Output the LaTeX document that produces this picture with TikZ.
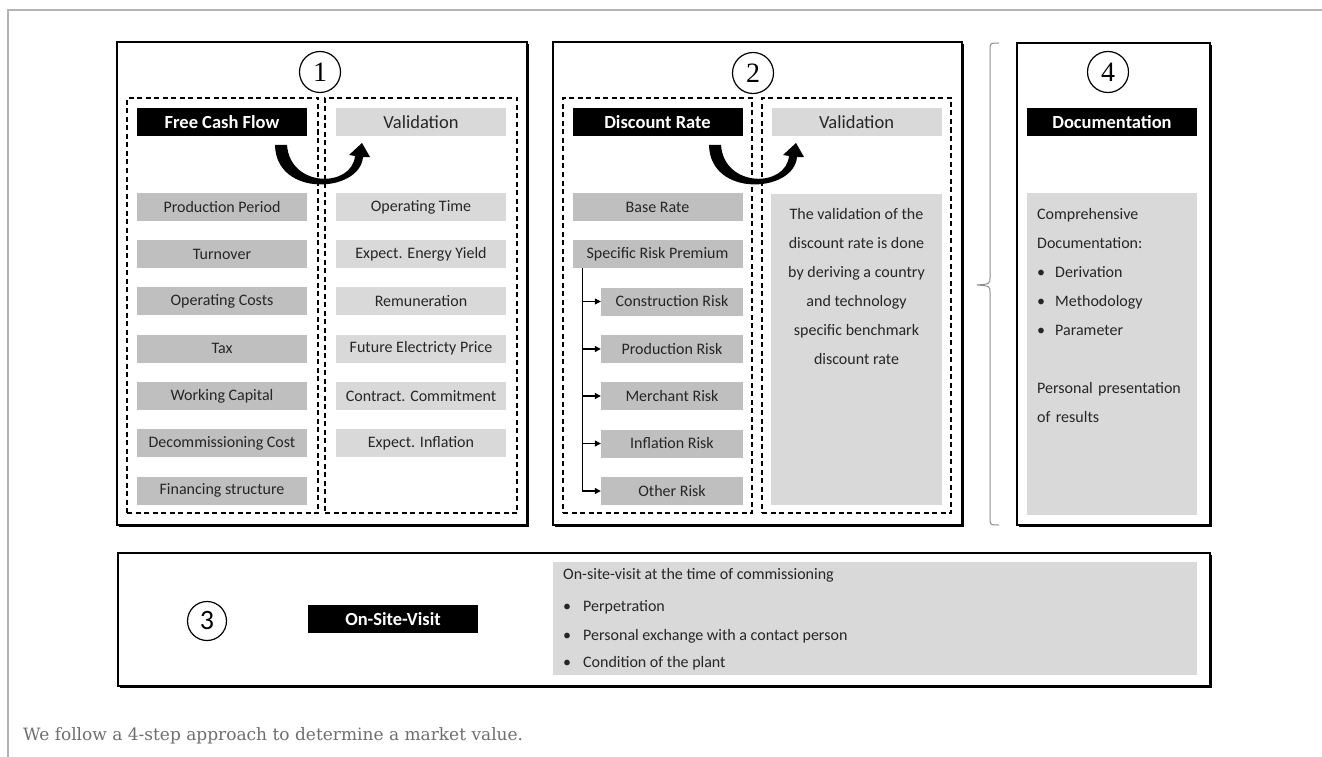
\documentclass[tikz,border=0pt]{standalone}
\usepackage{fontspec}
\setmainfont{Carlito}
\newfontfamily\digitfont{Liberation Serif}
\newfontfamily\capfont{DejaVu Serif}
\usetikzlibrary{arrows.meta,shadows,calc}
\definecolor{dk}{HTML}{BFBFBF}
\definecolor{lt}{HTML}{D9D9D9}
\definecolor{txt}{HTML}{262626}
\definecolor{framec}{HTML}{B4B4B4}
\definecolor{capc}{HTML}{6E6E6E}
\definecolor{bracec}{HTML}{8C8C8C}
\newcommand\docbul{\makebox[18pt][l]{•}}
\begin{document}
\begin{tikzpicture}[x=1pt,y=-1pt,
  panel/.style={draw=black, line width=1.4pt, fill=white, inner sep=0pt,
    drop shadow={shadow xshift=2pt, shadow yshift=-2pt, fill=black, opacity=1}},
  dashbox/.style={draw=black, line width=1.3pt, dash pattern=on 5pt off 3.5pt, inner sep=0pt},
  hdr/.style={fill=black, text=white, font=\bfseries\fontsize{18.5}{22}\selectfont,
    minimum width=170pt, minimum height=28pt, inner sep=0pt},
  vhdr/.style={fill=lt, text=txt, font=\fontsize{18.5}{22}\selectfont,
    minimum width=170pt, minimum height=28pt, inner sep=0pt},
  itemd/.style={fill=dk, text=txt, font=\fontsize{16}{19}\selectfont,
    minimum width=170pt, minimum height=28pt, inner sep=0pt},
  iteml/.style={itemd, fill=lt},
  risk/.style={itemd, minimum width=142pt},
  num/.style={circle, draw=black, line width=1.2pt, minimum size=41pt, inner sep=0pt,
    font=\digitfont\fontsize{28}{28}\selectfont},
  branch/.style={draw=black, line width=1.1pt, -{Triangle[length=6pt,width=6pt]}},
  bodytext/.style={text=txt, font=\fontsize{16}{29}\selectfont, inner sep=0pt},
  bendarrow/.pic={
    \fill[black] (275,145) .. controls (276,198) and (360,193) .. (363,157)
      -- (370,157) -- (362,143) -- (349,155) -- (355,156)
      .. controls (352,188) and (290,188) .. (287,145) -- cycle;
  },
]
\useasboundingbox (0,0) rectangle (1322,757);
% outer frame
\draw[framec, line width=1.5pt] (8,757) -- (8,10) -- (1322,10);

% panels
\node[panel, minimum width=410pt, minimum height=483pt] (p1) at (322,283.5) {};
\node[panel, minimum width=409pt, minimum height=483pt] (p2) at (757.5,283.5) {};
\node[panel, minimum width=193pt, minimum height=482pt] (p4) at (1113.5,284) {};
\node[panel, minimum width=1092pt, minimum height=133pt] (p3) at (664,619.5) {};

% dashed boxes
\node[dashbox, minimum width=191pt, minimum height=415pt] (d1l) at (222.5,305.5) {};
\node[dashbox, minimum width=192pt, minimum height=415pt] (d1r) at (421,305.5) {};
\node[dashbox, minimum width=189pt, minimum height=415pt] (d2l) at (657.5,305.5) {};
\node[dashbox, minimum width=189pt, minimum height=415pt] (d2r) at (856.5,305.5) {};

% circled numbers
\node[num] (n1) at (320,72) {1};
\node[num] (n2) at (753,73) {2};
\node[num] (n4) at (1108,72) {4};
\node[num, minimum size=39pt, font=\fontsize{28}{28}\selectfont] (n3) at (207,621) {3};

% panel 1
\node[hdr] (fcf) at (222,122) {Free Cash Flow};
\node[vhdr] (val1) at (421,122) {Validation};
\node[itemd] (pp) at (222,207) {Production Period};
\node[itemd] (to) at (222,254) {Turnover};
\node[itemd] (oc) at (222,301) {Operating Costs};
\node[itemd] (tx) at (222,348.5) {Tax};
\node[itemd] (wc) at (222,396) {Working Capital};
\node[itemd] (dc) at (222,443) {Decommissioning Cost};
\node[itemd] (fs) at (222,490.5) {Financing structure};
\node[iteml] (ot) at (421,207) {Operating Time};
\node[iteml] (ey) at (421,254) {Expect. Energy Yield};
\node[iteml] (rm) at (421,301) {Remuneration};
\node[iteml] (ep) at (421,348.5) {Future Electricty Price};
\node[iteml] (cc) at (421,396) {Contract. Commitment};
\node[iteml] (ei) at (421,443) {Expect. Inflation};
\pic at (0,0) {bendarrow};

% panel 2
\node[hdr] (dr) at (657.5,122) {Discount Rate};
\node[vhdr] (val2) at (856.5,122) {Validation};
\node[itemd] (br) at (657.5,207) {Base Rate};
\node[itemd] (srp) at (657.5,254) {Specific Risk Premium};
\node[risk] (cr) at (672,301.5) {Construction Risk};
\node[risk] (pr) at (672,349) {Production Risk};
\node[risk] (mr) at (672,396) {Merchant Risk};
\node[risk] (ir) at (672,443.5) {Inflation Risk};
\node[risk] (or) at (672,491) {Other Risk};
\coordinate (trunk) at ($(srp.south west)+(10,0)$);
\foreach \n in {cr,pr,mr,ir,or} \draw[branch] (trunk) |- (\n.west);
\node[fill=lt, minimum width=171pt, minimum height=311pt, inner sep=0pt] (vbox) at (856.5,349.5) {};
\node[bodytext, align=center, anchor=north] (vtxt) at (856.5,208)
  {The validation of the\\discount rate is done\\by deriving a country\\and technology\\specific benchmark\\discount rate};
\pic at (434,0) {bendarrow};

% brace
\draw[bracec, line width=1pt] (999,43) .. controls (990,43) .. (990,50) -- (990,277)
  .. controls (990,284) .. (977,285) .. controls (990,286) .. (990,293) -- (990,518)
  .. controls (990,525) .. (999,525);

% panel 4
\node[hdr] (doc) at (1112,122.5) {Documentation};
\node[fill=lt, minimum width=170pt, minimum height=322pt, inner sep=0pt] (dbox) at (1112,354) {};
\node[bodytext, align=left, anchor=north west, text width=155pt] (dtxt) at (1037,208)
  {Comprehensive\\Documentation:\\\docbul Derivation\\\docbul Methodology\\\docbul Parameter\\[29pt]Personal presentation\\of results};

% panel 3
\node[hdr] (osv) at (393,619) {On-Site-Visit};
\node[fill=lt, minimum width=644pt, minimum height=113pt, inner sep=0pt] (obox) at (875,618.5) {};
\node[bodytext, anchor=west] (o1) at (563,575) {On-site-visit at the time of commissioning};
\node[bodytext, anchor=west] (o2) at (563,607) {\makebox[20pt][l]{•}Perpetration};
\node[bodytext, anchor=west] (o3) at (563,636) {\makebox[20pt][l]{•}Personal exchange with a contact person};
\node[bodytext, anchor=west] (o4) at (563,663) {\makebox[20pt][l]{•}Condition of the plant};

% caption
\node[anchor=west, text=capc, inner sep=0pt, font=\capfont\fontsize{17}{20}\selectfont] (cap) at (23,736)
  {We follow a 4-step approach to determine a market value.};
\end{tikzpicture}
\end{document}
